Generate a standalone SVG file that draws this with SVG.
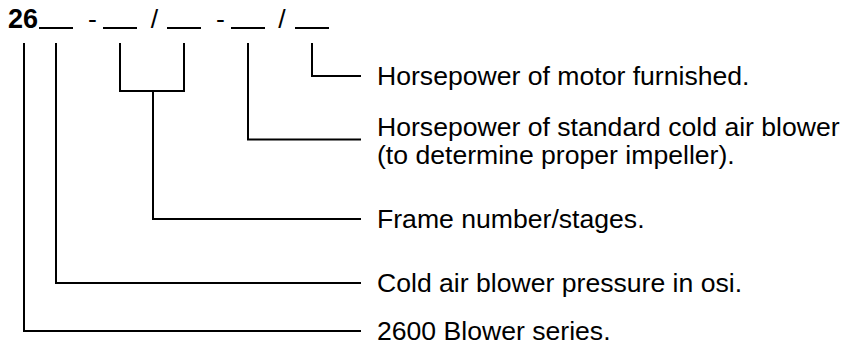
<svg xmlns="http://www.w3.org/2000/svg" width="856" height="346" viewBox="0 0 856 346">
<style>
text{font-family:"Liberation Sans",Arial,sans-serif;font-size:26.6px;fill:#000}
.b{font-weight:bold;font-size:27px}
.ln{stroke:#000;stroke-width:2;fill:none}
</style>
<rect width="856" height="346" fill="#fff"/>
<g id="code">
<text class="b" x="8" y="28">26</text>
<text x="92.5" y="28" text-anchor="middle">-</text>
<text x="154.5" y="28" text-anchor="middle">/</text>
<text x="220.5" y="28" text-anchor="middle">-</text>
<text x="282" y="28" text-anchor="middle">/</text>
<path class="ln" d="M39,28H73M103,28H137M167,28H201M231,28H265M295,28H329"/>
</g>
<g id="connectors">
<path class="ln" d="M312,43V76H361"/>
<path class="ln" d="M248,43V139.5H361"/>
<path class="ln" d="M120,43V91H184V43M153,91V219H361"/>
<path class="ln" d="M56,43V283H361"/>
<path class="ln" d="M24,43V331H361"/>
</g>
<g id="motor"><text x="377" y="85">Horsepower of motor furnished.</text></g>
<g id="standard"><text x="377" y="136">Horsepower of standard cold air blower</text><text x="377" y="164">(to determine proper impeller).</text></g>
<g id="frame"><text x="377" y="228">Frame number/stages.</text></g>
<g id="pressure"><text x="377" y="292">Cold air blower pressure in osi.</text></g>
<g id="series"><text x="377" y="340">2600 Blower series.</text></g>
</svg>
